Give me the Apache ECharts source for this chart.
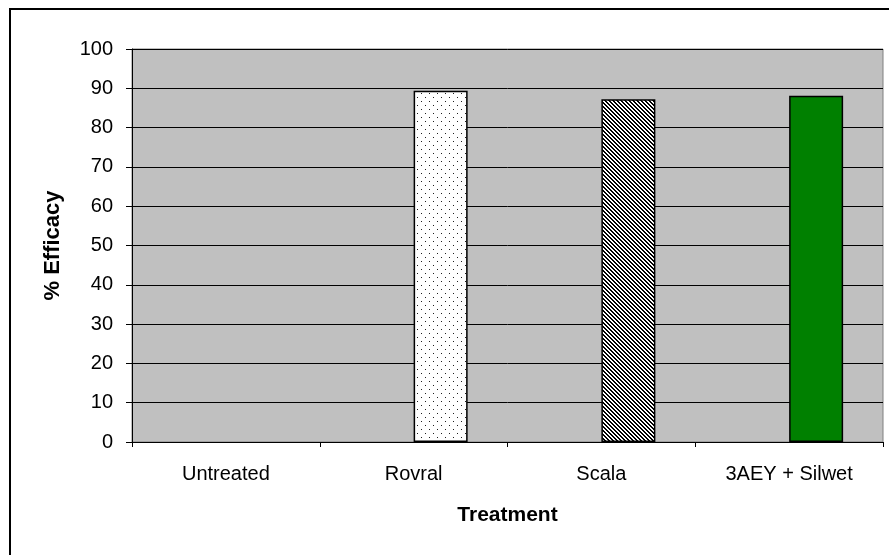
<!DOCTYPE html>
<html>
<head>
<meta charset="utf-8">
<script src="https://cdn.jsdelivr.net/npm/echarts@6/dist/echarts.min.js"></script>
<style>
html,body{margin:0;padding:0;background:#fff;}
#chart{width:889px;height:555px;}
</style>
</head>
<body>
<div id="chart"></div>
<script>
// Data
var categories = ['Untreated', 'Rovral', 'Scala', '3AEY + Silwet'];
var efficacy = [0, 89.4, 87.2, 88.1];
var placeholder = ['-', '-', '-', '-'];
var yTicks = [0, 10, 20, 30, 40, 50, 60, 70, 80, 90, 100];

function makePattern(size, fn) {
  var c = document.createElement('canvas');
  c.width = size; c.height = size;
  var ctx = c.getContext('2d');
  var img = ctx.createImageData(size, size);
  for (var y = 0; y < size; y++) {
    for (var x = 0; x < size; x++) {
      var col = fn(x, y);
      var i = (y * size + x) * 4;
      img.data[i] = col[0]; img.data[i + 1] = col[1]; img.data[i + 2] = col[2]; img.data[i + 3] = 255;
    }
  }
  ctx.putImageData(img, 0, 0);
  return c;
}
var dotsCanvas = makePattern(8, function (x, y) {
  if ((x === 1 && y === 1) || (x === 5 && y === 5)) return [30, 30, 30];
  return [255, 255, 255];
});
var stripeCanvas = makePattern(4, function (x, y) {
  var d = ((x - y) % 4 + 4) % 4;
  return d < 2 ? [0, 0, 0] : [255, 255, 255];
});
var barColors = [
  '#C0C0C0',
  { image: dotsCanvas, repeat: 'repeat' },
  { image: stripeCanvas, repeat: 'repeat' },
  '#008000'
];

var font = 'Liberation Sans, Arial, sans-serif';
var chart = echarts.init(document.getElementById('chart'), null, { renderer: 'canvas' });
chart.setOption({
  animation: false,
  backgroundColor: '#ffffff',
  graphic: [{
    type: 'rect',
    shape: { x: 10, y: 9, width: 900, height: 600 },
    style: { fill: 'none', stroke: '#000', lineWidth: 2 },
    silent: true
  }],
  grid: {
    left: 132, top: 49, right: 6, bottom: 113,
    show: true, backgroundColor: '#C0C0C0', borderColor: '#808080', borderWidth: 1
  },
  xAxis: {
    type: 'category',
    data: categories,
    name: 'Treatment',
    nameLocation: 'middle',
    nameGap: 63,
    nameTextStyle: { fontFamily: font, fontWeight: 'bold', fontSize: 21, color: '#000' },
    axisLine: { lineStyle: { color: '#000', width: 1 } },
    axisTick: { show: true, length: 5, lineStyle: { color: '#000' } },
    axisLabel: { fontFamily: font, fontSize: 20, color: '#000', margin: 22 },
    splitLine: { show: false }
  },
  yAxis: {
    type: 'value',
    min: 0, max: 100, interval: 10,
    name: '% Efficacy',
    nameLocation: 'middle',
    nameGap: 68,
    nameRotate: 90,
    nameTextStyle: { fontFamily: font, fontWeight: 'bold', fontSize: 22, color: '#000' },
    axisLine: { show: true, lineStyle: { color: '#000', width: 1 } },
    axisTick: { show: true, length: 6, lineStyle: { color: '#000' } },
    axisLabel: {
      fontFamily: font, fontSize: 20, color: '#000', margin: 19,
      formatter: function (v) { return yTicks.indexOf(v) >= 0 ? String(v) : ''; }
    },
    splitLine: { show: true, lineStyle: { color: '#000', width: 1 } }
  },
  series: [
    {
      type: 'bar',
      name: 'blank',
      data: placeholder,
      barWidth: 54,
      barGap: '0%',
      silent: true
    },
    {
      type: 'bar',
      name: 'Efficacy',
      data: efficacy.map(function (v, i) {
        return { value: v, itemStyle: { color: barColors[i], borderColor: '#000', borderWidth: v > 0 ? 1.5 : 0 } };
      }),
      barWidth: 54,
      barGap: '0%'
    }
  ]
});
</script>
</body>
</html>
